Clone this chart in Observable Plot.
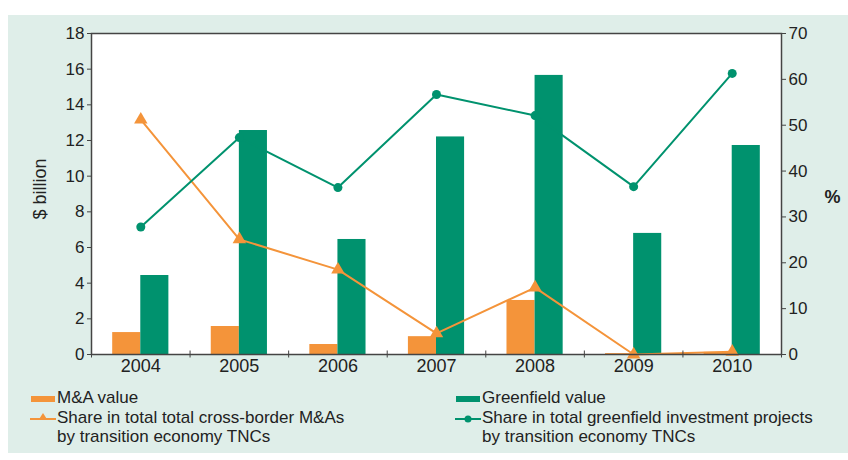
<!DOCTYPE html>
<html><head><meta charset="utf-8">
<script src="https://cdn.jsdelivr.net/npm/d3@7"></script>
<script src="https://cdn.jsdelivr.net/npm/@observablehq/plot@0.6"></script>
<style>
body{margin:0;background:#fff;font-family:"Liberation Sans",Arial,sans-serif;}
#wrap{position:relative;width:848px;height:460px;overflow:hidden;}
#panel{position:absolute;left:8px;top:15px;width:840px;height:438px;background:#dfeee9;}
#chart{position:absolute;left:0;top:0;}
.leg{position:absolute;font-family:"Liberation Sans",Arial,sans-serif;font-size:17px;line-height:19px;color:#222;white-space:nowrap;}
</style></head>
<body>
<div id="wrap">
<div id="panel"></div>
<div id="chart"></div>
<div id="legend"></div>
</div>
<script>
const years = ["2004","2005","2006","2007","2008","2009","2010"];
const maValue = [1.23, 1.57, 0.56, 1.0, 3.03, 0.05, 0.12];
const greenfieldValue = [4.43, 12.56, 6.45, 12.2, 15.65, 6.79, 11.72];
const maShare = [51.2, 25.1, 18.5, 4.6, 14.6, 0.0, 0.6];
const greenfieldShare = [27.8, 47.3, 36.4, 56.7, 52.1, 36.6, 61.3];
const leftTicks = [0,2,4,6,8,10,12,14,16,18];
const rightTicks = [0,10,20,30,40,50,60,70];

const ORANGE = "#f4943a", GREEN = "#00926e";
const k = 18/70;
const data = years.map((y,i)=>({i, year:y, ma:maValue[i], gf:greenfieldValue[i], mas:maShare[i]*k, gfs:greenfieldShare[i]*k}));
const bounds = d3.range(-0.5, 7, 1);
const bw = 0.285;

const chart = Plot.plot({
  width: 848, height: 380,
  marginLeft: 91, marginRight: 67, marginTop: 33, marginBottom: 26,
  style: {background:"transparent", fontFamily:"'Liberation Sans', Arial, sans-serif", fontSize:"17px", color:"#222"},
  x: {domain:[-0.5, 6.5], axis:null},
  y: {domain:[0,18], axis:null},
  marks: [
    Plot.frame({fill:"white"}),
    Plot.rectY(data, {x1: d=>d.i-bw, x2: d=>d.i, y: "ma", fill: ORANGE}),
    Plot.rectY(data, {x1: d=>d.i, x2: d=>d.i+bw, y: "gf", fill: GREEN}),
    Plot.line(data, {x:"i", y:"mas", stroke: ORANGE, strokeWidth: 2}),
    Plot.dot(data, {x:"i", y:"mas", symbol:"triangle", r:5, fill: ORANGE}),
    Plot.line(data, {x:"i", y:"gfs", stroke: GREEN, strokeWidth: 2}),
    Plot.dot(data, {x:"i", y:"gfs", r:4.5, fill: GREEN}),
    Plot.frame({stroke:"#444", strokeWidth:1.5}),
    Plot.axisY(leftTicks, {anchor:"left", tickSize:4, tickPadding:3, label:null, fontSize:17, stroke:"#444"}),
    Plot.axisY(rightTicks.map(d=>d*k), {anchor:"right", tickSize:4, tickPadding:3, label:null, fontSize:17, tickFormat: d=>String(Math.round(d/k)), stroke:"#444"}),
    Plot.axisX(bounds, {anchor:"bottom", tickSize:7, dy:-3.5, tickFormat: ()=>"", label:null, stroke:"#444"}),
    Plot.axisX(data.map(d=>d.i), {anchor:"bottom", tickSize:0, tickPadding:5, tickFormat: d=>years[d], label:null, fontSize:18}),
    Plot.text(["$ billion"], {frameAnchor:"left", textAnchor:"middle", dx:-51, dy:-5, rotate:-90, fontSize:18, fill:"#222"}),
    Plot.text(["%"], {frameAnchor:"right", textAnchor:"middle", dx:51, dy:3, fontSize:18, fontWeight:"bold", fill:"#222"})
  ]
});
document.getElementById("chart").appendChild(chart);

const legend = [
  {label:"M&A value", x:30, y:388, type:"bar", color:ORANGE},
  {label:"Greenfield value", x:455, y:388, type:"bar", color:GREEN},
  {label:"Share in total total cross-border M&As<br>by transition economy TNCs", x:30, y:408, type:"tri", color:ORANGE},
  {label:"Share in total greenfield investment projects<br>by transition economy TNCs", x:455, y:408, type:"dot", color:GREEN}
];
const L = document.getElementById("legend");
for (const it of legend) {
  const d = document.createElement("div");
  d.className = "leg";
  d.style.left = (it.x+27)+"px"; d.style.top = it.y+"px";
  d.innerHTML = it.label;
  L.appendChild(d);
  const s = document.createElementNS("http://www.w3.org/2000/svg","svg");
  s.setAttribute("width",26); s.setAttribute("height",16);
  s.style.position="absolute"; s.style.left = it.x+"px"; s.style.top = (it.y+1)+"px";
  if (it.type==="bar") {
    s.innerHTML = `<rect x="1" y="7" width="24" height="6" fill="${it.color}"/>`;
  } else if (it.type==="tri") {
    s.innerHTML = `<line x1="0" x2="26" y1="10" y2="10" stroke="${it.color}" stroke-width="2"/><path d="M13,4 L17.5,11 L8.5,11 Z" fill="${it.color}"/>`;
  } else {
    s.innerHTML = `<line x1="0" x2="26" y1="10" y2="10" stroke="${it.color}" stroke-width="2"/><circle cx="13" cy="10" r="3.5" fill="${it.color}"/>`;
  }
  L.appendChild(s);
}
</script>
</body></html>
